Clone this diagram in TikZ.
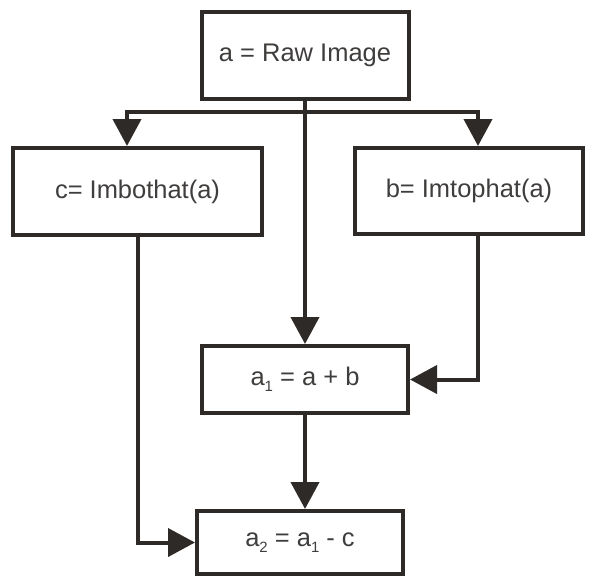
\documentclass[tikz,border=0pt]{standalone}
\usepackage{fontspec}
\setmainfont{Liberation Sans}
\usepackage{tikz}
\usetikzlibrary{arrows.meta,positioning}
\definecolor{ink}{RGB}{46,42,39}
\definecolor{txt}{RGB}{64,62,61}
\newcommand{\sub}[1]{\raisebox{-0.45ex}{\fontsize{8.5}{9}\selectfont #1}}

\begin{document}
\begin{tikzpicture}[x=0.02cm,y=-0.02cm,
  box/.style={draw=ink,line width=0.08cm,fill=white,text=txt,
    font=\fontsize{14.5}{17}\selectfont,inner sep=0pt},
  edge/.style={draw=ink,line width=0.08cm,
    -{Triangle[width=0.56cm,length=0.54cm]}}]
\useasboundingbox (0,0) rectangle (594,576);
%\draw[help lines] (0,0) grid (594,576);
\node[box,minimum width=207*0.02cm,minimum height=87*0.02cm] (raw) at (305,55.5) {a = Raw Image};
\node[box,minimum width=249*0.02cm,minimum height=87*0.02cm] (c) at (137.5,191.5) {c= Imbothat(a)};
\node[box,minimum width=228*0.02cm,minimum height=86*0.02cm] (b) at (469,191) {b= Imtophat(a)};
\node[box,minimum width=206*0.02cm,minimum height=67*0.02cm] (a1) at (305,379.5) {a\sub{1} = a + b};
\node[box,minimum width=206*0.02cm,minimum height=63*0.02cm] (a2) at (300,542.5) {a\sub{2} = a\sub{1} - c};
\coordinate (split) at (305,112);
\draw[edge] (raw.south) -- (a1.north);
\draw[edge] (split) -| ([xshift=-0.21cm]c.north);
\draw[edge] (split) -| ([xshift=0.18cm]b.north);
\draw[edge] ([xshift=0.18cm]b.south) |- (a1.east);
\draw[edge] (a1.south) -- (a1.south |- a2.north);
\draw[edge] (c.south) |- (a2.west);
\end{tikzpicture}
\end{document}
